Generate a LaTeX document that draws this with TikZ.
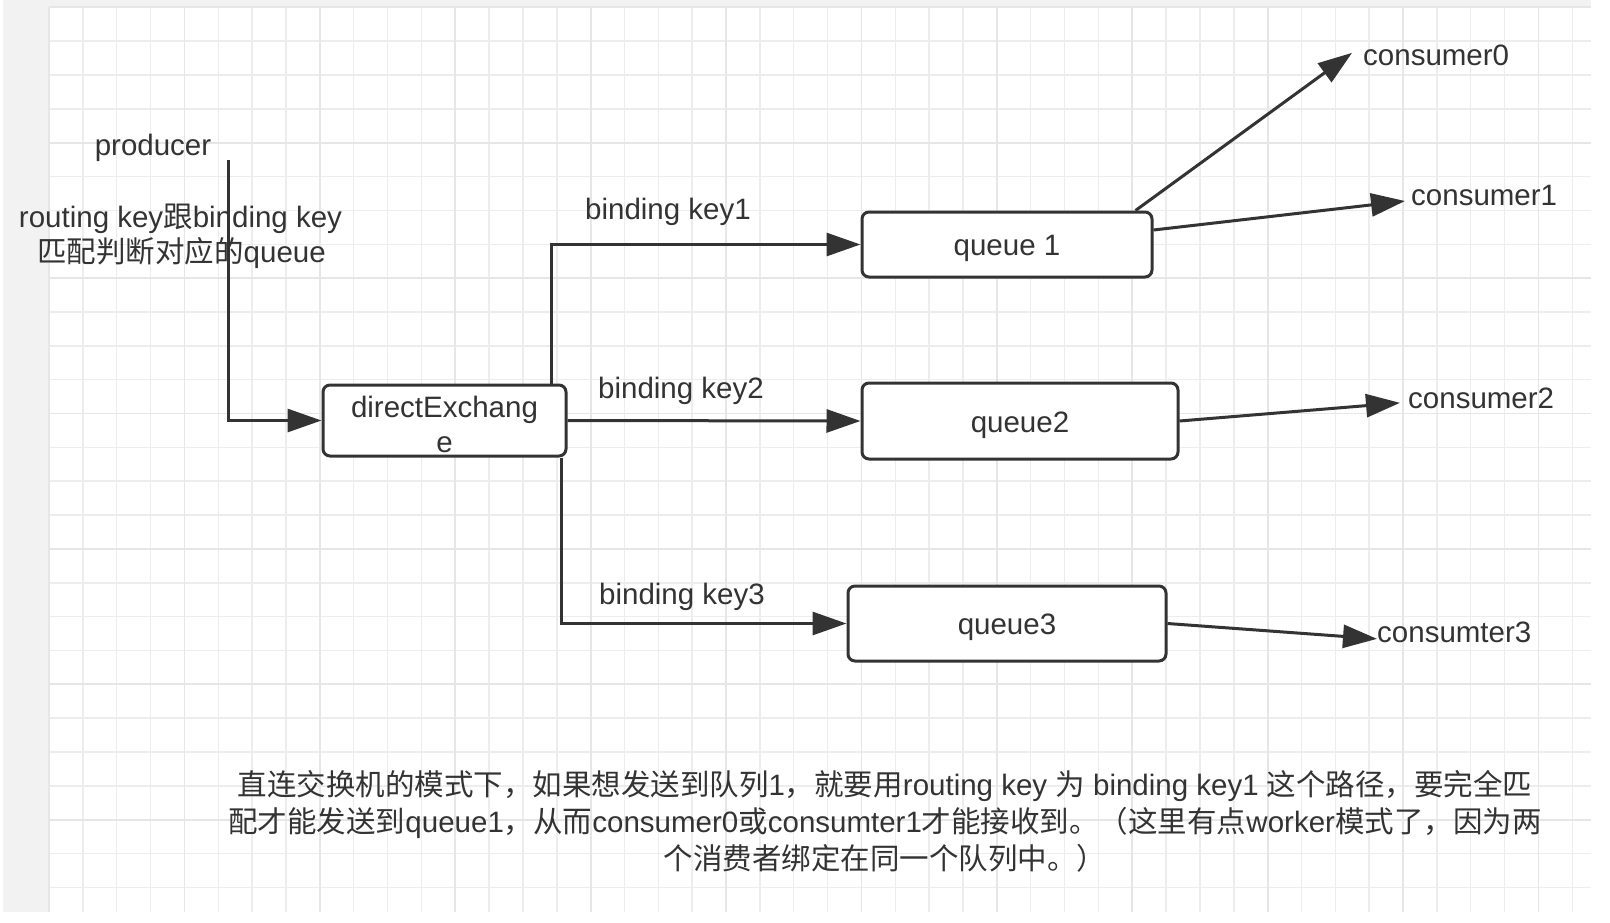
\documentclass[tikz,border=0pt]{standalone}
\usepackage{fontspec}
\setmainfont{Liberation Sans}
\newfontfamily\cjk{Noto Sans CJK SC}
\newcommand\zh[1]{{\cjk #1}}
\newcommand\lowr[1]{\raisebox{-4pt}[\height][\depth]{#1}}
\usetikzlibrary{arrows.meta,calc}
\definecolor{ink}{HTML}{333333}
\definecolor{gridminor}{HTML}{EDEDED}
\definecolor{gridmajor}{HTML}{E6E6E6}
\definecolor{panel}{HTML}{F2F2F2}
\tikzset{
  txt/.style={inner sep=0pt, text=ink, font=\fontsize{29.5}{36}\selectfont},
  box/.style={draw=ink, line width=3pt, rounded corners=7pt, fill=white, inner sep=0pt,
    text=ink, font=\fontsize{29.5}{35}\selectfont, align=center},
  arr/.style={draw=ink, line width=3pt, -{Triangle[length=34pt,width=23pt]}},
  gmin/.style={draw=gridminor, line width=1.5pt},
  gmaj/.style={draw=gridmajor, line width=1.8pt}
}
\begin{document}
\begin{tikzpicture}[x=1pt,y=-1pt]
\useasboundingbox (0,0) rectangle (1610,922);
\fill[white] (0,0) rectangle (1610,922);
\fill[panel] (3,0) rectangle (1591,912);
\fill[white] (49,7) rectangle (1591,912);
% grid
\foreach \i in {0,...,45} \draw[gmin] ({49+33.85*\i},7) -- ({49+33.85*\i},912);
\foreach \j in {0,...,26} \draw[gmin] (49,{7.3+33.85*\j}) -- (1591,{7.3+33.85*\j});
\foreach \i in {0,4,...,44} \draw[gmaj] ({49+33.85*\i},7) -- ({49+33.85*\i},912);
\foreach \j in {0,4,...,24} \draw[gmaj] (49,{7.3+33.85*\j}) -- (1591,{7.3+33.85*\j});

% boxes
\node[box, minimum width=243pt, minimum height=71pt] (exch) at (444.5,420.5) {\lowr{directExchang}\\\lowr{e}};
\node[box, minimum width=290pt, minimum height=65pt] (q1) at (1007,244.5) {\lowr{queue 1}};
\node[box, minimum width=316pt, minimum height=76pt] (q2) at (1020,421) {\lowr{queue2}};
\node[box, minimum width=318pt, minimum height=75pt] (q3) at (1007,623.5) {\lowr{queue3}};

% texts
\node[txt, anchor=base] (prod) at (153,155) {producer};
\node[txt, anchor=base] (rk1) at (180.5,227) {routing key\zh{跟}binding key};
\node[txt, anchor=base] (rk2) at (181.5,262) {\zh{匹配判断对应的}queue};
\node[txt, anchor=base] (bk1) at (668,219) {binding key1};
\node[txt, anchor=base] (bk2) at (681,398) {binding key2};
\node[txt, anchor=base] (bk3) at (682,604) {binding key3};
\node[txt, anchor=base west] (c0) at (1363,65) {consumer0};
\node[txt, anchor=base west] (c1) at (1411,205) {consumer1};
\node[txt, anchor=base west] (c2) at (1408,408) {consumer2};
\node[txt, anchor=base west] (c3) at (1377,642) {consumter3};
\node[txt, anchor=base] (n1) at (885,795) {\zh{直连交换机的模式下，如果想发送到队列}1\zh{，就要用}routing key \zh{为} binding key1 \zh{这个路径，要完全匹}};
\node[txt, anchor=base] (n2) at (885,832) {\zh{配才能发送到}queue1\zh{，从而}consumer0\zh{或}consumter1\zh{才能接收到。（这里有点}worker\zh{模式了，因为两}};
\node[txt, anchor=base] (n3) at (885,869) {\zh{个消费者绑定在同一个队列中。）}};

% connectors
\coordinate (p0) at (228,160);
\draw[arr] (p0) |- (exch.west);
\draw[arr] ($(exch.north east)+(-16,0)$) |- (q1.west);
\draw[arr] (exch.east) -- (q2.west);
\draw[arr] ($(exch.south east)+(-6,0)$) |- (q3.west);
\draw[arr] ($(q1.north east)+(-18,0)$) -- ($(c0.west)+(-11,-2)$);
\draw[arr] ($(q1.east)+(0,-14.5)$) -- ($(c1.west)+(-6,6)$);
\draw[arr] (q2.east) -- ($(c2.west)+(-8,5)$);
\draw[arr] (q3.east) -- ($(c3.west)+(0,7)$);
\end{tikzpicture}
\end{document}
